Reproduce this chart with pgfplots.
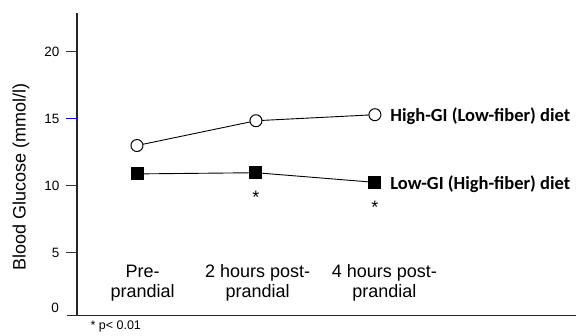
\documentclass[border=0pt]{standalone}
\usepackage{pgfplots}
\pgfplotsset{compat=1.18}
\usepackage{fontspec}
\setmainfont{Liberation Sans}
\newfontfamily\carlito{Carlito}
\begin{document}
\begin{tikzpicture}[x=1pt,y=1pt]
\useasboundingbox (-77pt,-20.3pt) rectangle (499pt,315.7pt);
\begin{axis}[
  at={(0,0)}, anchor=south west,
  scale only axis, width=499pt, height=302.7pt,
  xmin=-0.504, xmax=3.69, ymin=0.3, ymax=22.89,
  axis x line=bottom, axis y line=left,
  axis line style={line width=1.4pt, color=black!85, -},
  xtick=\empty,
  ytick={5,10,20},
  extra y ticks={15},
  extra y tick style={major tick style={blue, line width=1pt}},
  tick align=outside,
  major tick length=11pt,
  major tick style={line width=1pt, black!80},
  yticklabel style={font=\fontsize{13.5}{15}\selectfont, xshift=-3pt},
  /pgf/number format/assume math mode=true,
  clip=false,
]
\addplot[black, line width=0.9pt, mark=*, mark size=6pt,
  mark options={fill=white, draw=black, line width=1pt}]
  coordinates {(0,13.0) (1,14.85) (2,15.3)};
\addplot[black, line width=0.9pt, mark=square*, mark size=6pt,
  mark options={fill=black}]
  coordinates {(0,10.88) (1,10.97) (2,10.25)};
\node[font=\fontsize{18}{20.5}\selectfont, align=center] at (axis cs:0.048,2.74) {Pre-\\prandial};
\node[font=\fontsize{18}{20.5}\selectfont, align=center] at (axis cs:1.014,2.74) {2 hours post-\\prandial};
\node[font=\fontsize{18}{20.5}\selectfont, align=center] at (axis cs:2.08,2.74) {4 hours post-\\prandial};
\node[font=\carlito\bfseries\fontsize{18.5}{20}\selectfont, anchor=west] at (axis cs:2.10,15.2) {High-GI (Low-fiber) diet};
\node[font=\carlito\bfseries\fontsize{18.5}{20}\selectfont, anchor=west] at (axis cs:2.10,10.13) {Low-GI (High-fiber) diet};
\node[font=\fontsize{18}{20}\selectfont] at (axis cs:1,9.12) {*};
\node[font=\fontsize{18}{20}\selectfont] at (axis cs:2,8.37) {*};
\end{axis}
\draw[line width=1.4pt, black!85] (-10pt,0) -- (0,0);
\node[anchor=east, font=\fontsize{13.5}{15}\selectfont] at (-14.5pt,7.7pt) {0};
\node[anchor=west, font=\fontsize{12.5}{14}\selectfont] at (10pt,-10.5pt) {* p< 0.01};
\node[rotate=90, font=\fontsize{18}{20}\selectfont] at (-56pt,138.7pt) {Blood Glucose (mmol/l)};
\end{tikzpicture}
\end{document}
